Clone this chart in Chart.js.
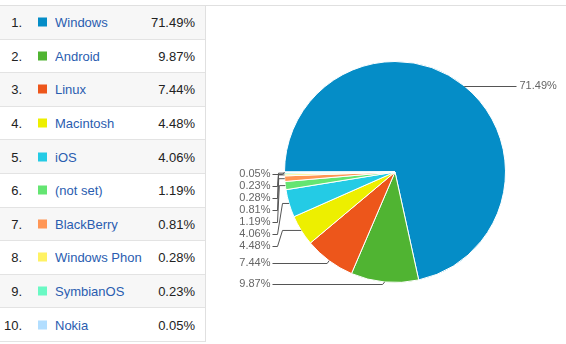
<!DOCTYPE html>
<html>
<head>
<meta charset="utf-8">
<script src="https://cdn.jsdelivr.net/npm/chart.js@4/dist/chart.umd.min.js"></script>
<style>
  html, body { margin:0; padding:0; background:#fff; }
  body { width:566px; height:344px; position:relative; overflow:hidden; font-family:Arial, "Liberation Sans", sans-serif; }
  .topline { position:absolute; left:0; top:5px; width:566px; height:1px; background:#e0e0e0; }
  #os-table { position:absolute; left:0; top:6px; width:205px; border-right:1px solid #e0e0e0; }
  .row { position:relative; height:32.6px; border-bottom:1px solid #e3e3e3; font-size:13px; }
  .row.odd { background:#f7f7f7; }
  .row span { position:absolute; top:50%; transform:translateY(-50%); white-space:nowrap; }
  .num { right:183px; color:#222; }
  .sw  { left:38px; width:9px; height:9px; }
  .nm  { left:55px; width:87px; overflow:hidden; color:#2a5db0; }
  .pct { right:10px; color:#222; }
  #pie { position:absolute; left:206px; top:6px; }
</style>
</head>
<body>
<div class="topline"></div>
<div id="os-table"></div>
<canvas id="pie" width="360" height="338"></canvas>
<script>
// ── Data ───────────────────────────────────────────────────────
const labels = ['Windows', 'Android', 'Linux', 'Macintosh', 'iOS', '(not set)', 'BlackBerry', 'Windows Phone', 'SymbianOS', 'Nokia'];
const shares = [71.49, 9.87, 7.44, 4.48, 4.06, 1.19, 0.81, 0.28, 0.23, 0.05];
const colors = ['#058dc7', '#50b432', '#ed561b', '#edef00', '#24cbe5', '#64e572', '#ff9655', '#fff263', '#6af9c4', '#b2deff'];

// ── Table ──────────────────────────────────────────────────────
document.getElementById('os-table').innerHTML = labels.map((l, i) =>
  `<div class="row ${i % 2 === 0 ? 'odd' : ''}">
     <span class="num">${i + 1}.</span>
     <span class="sw" style="background:${colors[i]}"></span>
     <span class="nm">${l}</span>
     <span class="pct">${shares[i].toFixed(2)}%</span>
   </div>`
).join('');

// ── Callout labels ─────────────────────────────────────────────
const calloutPlugin = {
  id: 'callouts',
  afterDraw(chart) {
    const ctx  = chart.ctx;
    const arcs = chart.getDatasetMeta(0).data;
    const left = [], right = [];
    arcs.forEach((a, i) => {
      const mid = (a.startAngle + a.endAngle) / 2;
      const r   = a.outerRadius;
      const pt  = { i, cx: a.x, cy: a.y, r, ax: a.x + Math.cos(mid) * r, ay: a.y + Math.sin(mid) * r };
      (Math.cos(mid) < 0 ? left : right).push(pt);
    });

    ctx.save();
    ctx.font = '11px Arial, "Liberation Sans", sans-serif';
    ctx.fillStyle = '#666';
    ctx.strokeStyle = '#555';
    ctx.lineWidth = 1;
    ctx.textBaseline = 'middle';

    // left side: stack top-down, minimum 12px apart
    left.sort((p, q) => p.ay - q.ay);
    let prev = -Infinity;
    left.forEach(p => {
      const ly = Math.max(p.ay + 2, prev + 12);
      prev = ly;
      const tx = p.cx - p.r - 14;
      ctx.textAlign = 'right';
      ctx.fillText(shares[p.i].toFixed(2) + '%', tx, ly);
      ctx.beginPath();
      ctx.moveTo(tx + 2, Math.round(ly) + 0.5);
      if (Math.abs(ly - p.ay) < 5) {
        ctx.lineTo(p.ax - 2, Math.round(ly) + 0.5);
      } else {
        ctx.lineTo(tx + 7, Math.round(ly) + 0.5);
        ctx.lineTo(Math.min(p.ax - 6, tx + 12), p.ay);
      }
      ctx.lineTo(p.ax, p.ay);
      ctx.stroke();
    });

    // right side
    right.sort((p, q) => p.ay - q.ay);
    prev = -Infinity;
    right.forEach(p => {
      const ly = Math.max(p.ay, prev + 12);
      prev = ly;
      const tx = p.cx + p.r + 14;
      ctx.textAlign = 'left';
      ctx.fillText(shares[p.i].toFixed(2) + '%', tx, ly);
      ctx.beginPath();
      ctx.moveTo(p.ax, Math.round(p.ay) + 0.5);
      ctx.lineTo(tx - 3, Math.round(ly) + 0.5);
      ctx.stroke();
    });
    ctx.restore();
  }
};

// ── Pie chart ──────────────────────────────────────────────────
new Chart(document.getElementById('pie'), {
  type: 'pie',
  data: {
    labels,
    datasets: [{
      data:            shares,
      backgroundColor: colors,
      borderColor:     '#fff',
      borderWidth:     1,
    }],
  },
  options: {
    responsive:       false,
    animation:        false,
    devicePixelRatio: 1,
    rotation:         -90,
    layout: { padding: { left: 78, right: 60, top: 55, bottom: 61 } },
    plugins: { legend: { display: false }, tooltip: { enabled: false } },
  },
  plugins: [calloutPlugin],
});
</script>
</body>
</html>
